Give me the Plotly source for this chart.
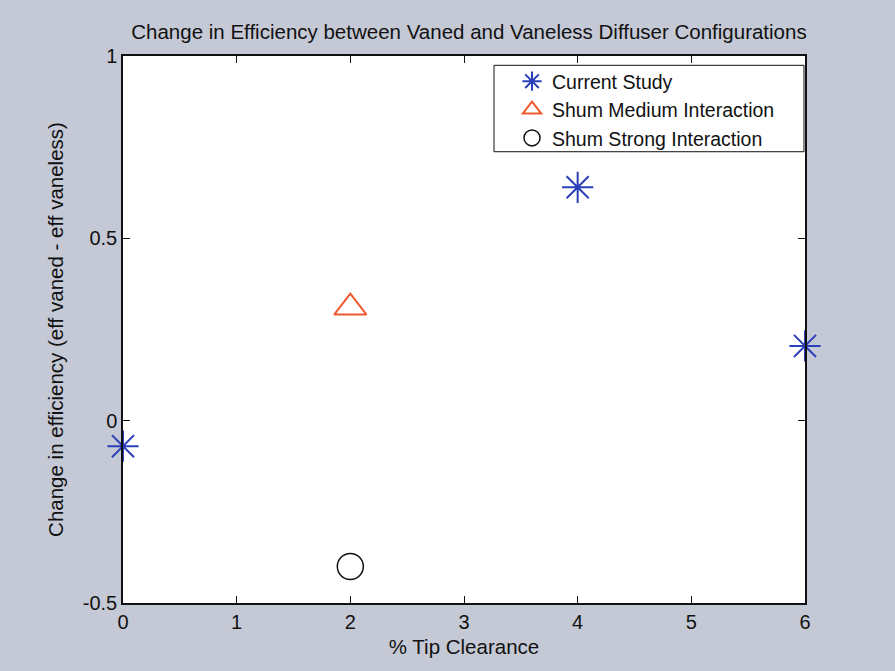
import plotly.graph_objects as go

# Tip clearance (%) and efficiency change (eff vaned - eff vaneless)
current_x = [0, 4, 6]
current_y = [-0.07, 0.64, 0.205]
medium_x = [2]
medium_y = [0.31]
strong_x = [2]
strong_y = [-0.40]

x_ticks = [0, 1, 2, 3, 4, 5, 6]
y_ticks = [-0.5, 0, 0.5, 1]
y_tick_labels = ["-0.5", "0", "0.5", "1"]

FONT = "Liberation Sans, Arial"
INK = "#111111"

fig = go.Figure()
fig.add_trace(go.Scatter(
    x=current_x, y=current_y, mode="markers", name="Current Study",
    marker=dict(symbol="asterisk-open", size=26, color="#2a3fb8",
                line=dict(color="#2a3fb8", width=2)),
    cliponaxis=False,
))
fig.add_trace(go.Scatter(
    x=medium_x, y=medium_y, mode="markers", name="Shum Medium Interaction",
    marker=dict(symbol="triangle-up-open", size=28, color="#ec5a30",
                line=dict(color="#ec5a30", width=2)),
    cliponaxis=False,
))
fig.add_trace(go.Scatter(
    x=strong_x, y=strong_y, mode="markers", name="Shum Strong Interaction",
    marker=dict(symbol="circle-open", size=26, color=INK,
                line=dict(color=INK, width=1.5)),
    cliponaxis=False,
))

axis_common = dict(
    showgrid=False, zeroline=False, showline=True, linecolor=INK,
    linewidth=1.5, mirror="ticks", ticks="inside", ticklen=7,
    tickcolor=INK, tickwidth=1,
    tickfont=dict(family=FONT, size=20, color=INK),
)

# framed box behind the legend entries (wider left inset than plotly's own border)
fig.add_shape(type="rect", xref="paper", yref="paper",
              x0=0.544, x1=0.9985, y0=0.825, y1=0.983,
              fillcolor="#ffffff", line=dict(color=INK, width=1), layer="below")

fig.update_layout(
    width=895, height=671,
    paper_bgcolor="#c5c9d6", plot_bgcolor="#ffffff",
    margin=dict(l=123, r=90, t=56, b=68),
    title=dict(text="Change in Efficiency between Vaned and Vaneless Diffuser Configurations",
               x=0.524, xanchor="center", y=0.953, yanchor="middle",
               font=dict(family=FONT, size=20.5, color=INK)),
    xaxis=dict(range=[0, 6], tickvals=x_ticks,
               title=dict(text="% Tip Clearance", standoff=8,
                          font=dict(family=FONT, size=20.5, color=INK)),
               **axis_common),
    yaxis=dict(range=[-0.5, 1], tickvals=y_ticks, ticktext=y_tick_labels,
               title=dict(text="Change in efficiency (eff vaned - eff vaneless)", standoff=14,
                          font=dict(family=FONT, size=20.5, color=INK)),
               **axis_common),
    legend=dict(x=0.5704, xanchor="left", y=0.989, yanchor="top",
                bgcolor="rgba(0,0,0,0)", borderwidth=0,
                font=dict(family=FONT, size=19.5, color=INK),
                itemsizing="trace", tracegroupgap=0),
    showlegend=True,
)

fig.write_html("out.html")
